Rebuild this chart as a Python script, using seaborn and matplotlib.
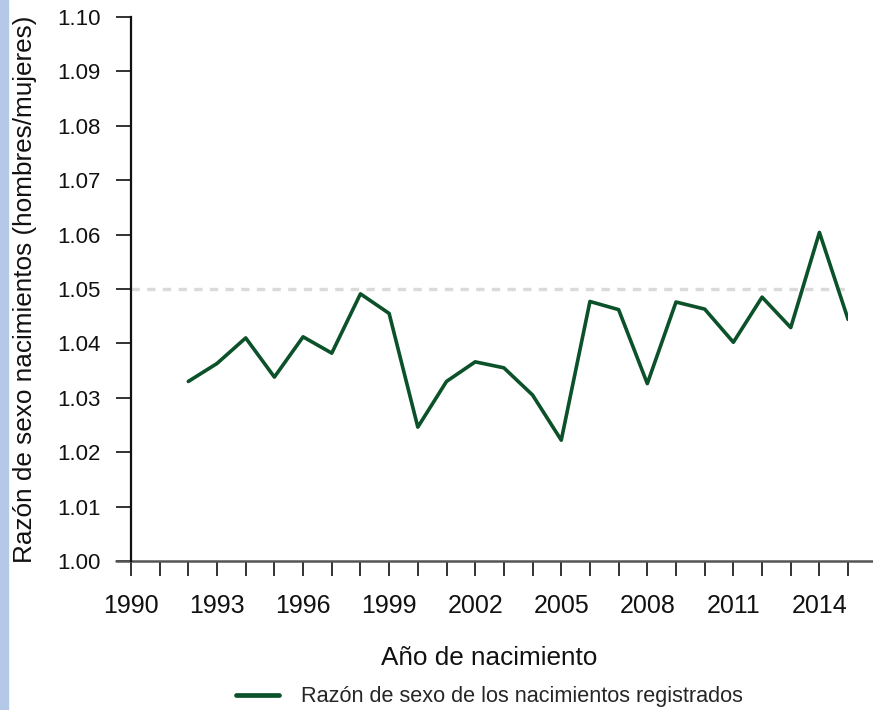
import matplotlib
matplotlib.use("Agg")
import matplotlib.pyplot as plt
import matplotlib.patches as mpatches
import pandas as pd
import seaborn as sns

# data
years = list(range(1992, 2016))
ratio = [1.0330, 1.0363, 1.0410, 1.0338, 1.0412, 1.0382, 1.0491, 1.0455,
         1.0246, 1.0330, 1.0366, 1.0355, 1.0305, 1.0222, 1.0477, 1.0462,
         1.0326, 1.0476, 1.0463, 1.0402, 1.0485, 1.0429, 1.0604, 1.0444]
ref_level = 1.05
series_name = "Razón de sexo de los nacimientos registrados"

df = pd.DataFrame({"Año": years, "Razón": ratio})

sns.set_style("ticks")
plt.rcParams["font.family"] = ["Liberation Sans", "DejaVu Sans"]

fig = plt.figure(figsize=(8.73, 7.10), dpi=100)
ax = fig.add_axes([0.150, 0.210, 0.8215, 0.766])

# light blue strip on the left edge
fig.patches.append(mpatches.Rectangle((0, 0), 8 / 873, 1, transform=fig.transFigure,
                                      color="#b4c8e8", zorder=0))

# reference line at 1.05
ax.hlines(ref_level, 1990, 2015, colors="#dadada", linewidth=2.4,
          linestyles=(0, (2.5, 2.2)), zorder=1)

sns.lineplot(data=df, x="Año", y="Razón", ax=ax, color="#0b5129",
             linewidth=2.6, label=series_name, zorder=3)

ax.set_xlim(1990, 2015)
ax.set_ylim(1.00, 1.10)

ax.set_yticks([1.00 + i * 0.01 for i in range(11)])
ax.set_yticklabels([f"{1.00 + i * 0.01:.2f}" for i in range(11)])
ax.set_xticks(list(range(1990, 2016)))
ax.set_xticklabels([str(y) if (y - 1990) % 3 == 0 else "" for y in range(1990, 2016)])

ax.tick_params(axis="y", length=11, width=1.3, colors="#222222", pad=11,
               labelsize=16, labelcolor="#111111")
ax.tick_params(axis="x", length=11, width=1.3, colors="#222222", pad=13,
               labelsize=18, labelcolor="#111111")

for s in ["top", "right", "bottom"]:
    ax.spines[s].set_visible(False)
ax.spines["left"].set_linewidth(1.6)
ax.spines["left"].set_color("#111111")

# x axis line reaching past the data range
ax.axhline(1.00, xmin=-0.021, xmax=1.035, color="#555555", linewidth=1.8,
           clip_on=False, zorder=2)

ax.set_xlabel("Año de nacimiento", fontsize=18.8, color="#111111", labelpad=20)
ax.set_ylabel("Razón de sexo nacimientos (hombres/mujeres)", fontsize=18.8,
              color="#111111", labelpad=14)

leg = ax.legend(loc="lower center", bbox_to_anchor=(0.5, -0.305), frameon=False,
                fontsize=15.6, handlelength=2.0, handletextpad=1.0)
for line in leg.get_lines():
    line.set_linewidth(3.4)

fig.savefig("out.png", dpi=100)
